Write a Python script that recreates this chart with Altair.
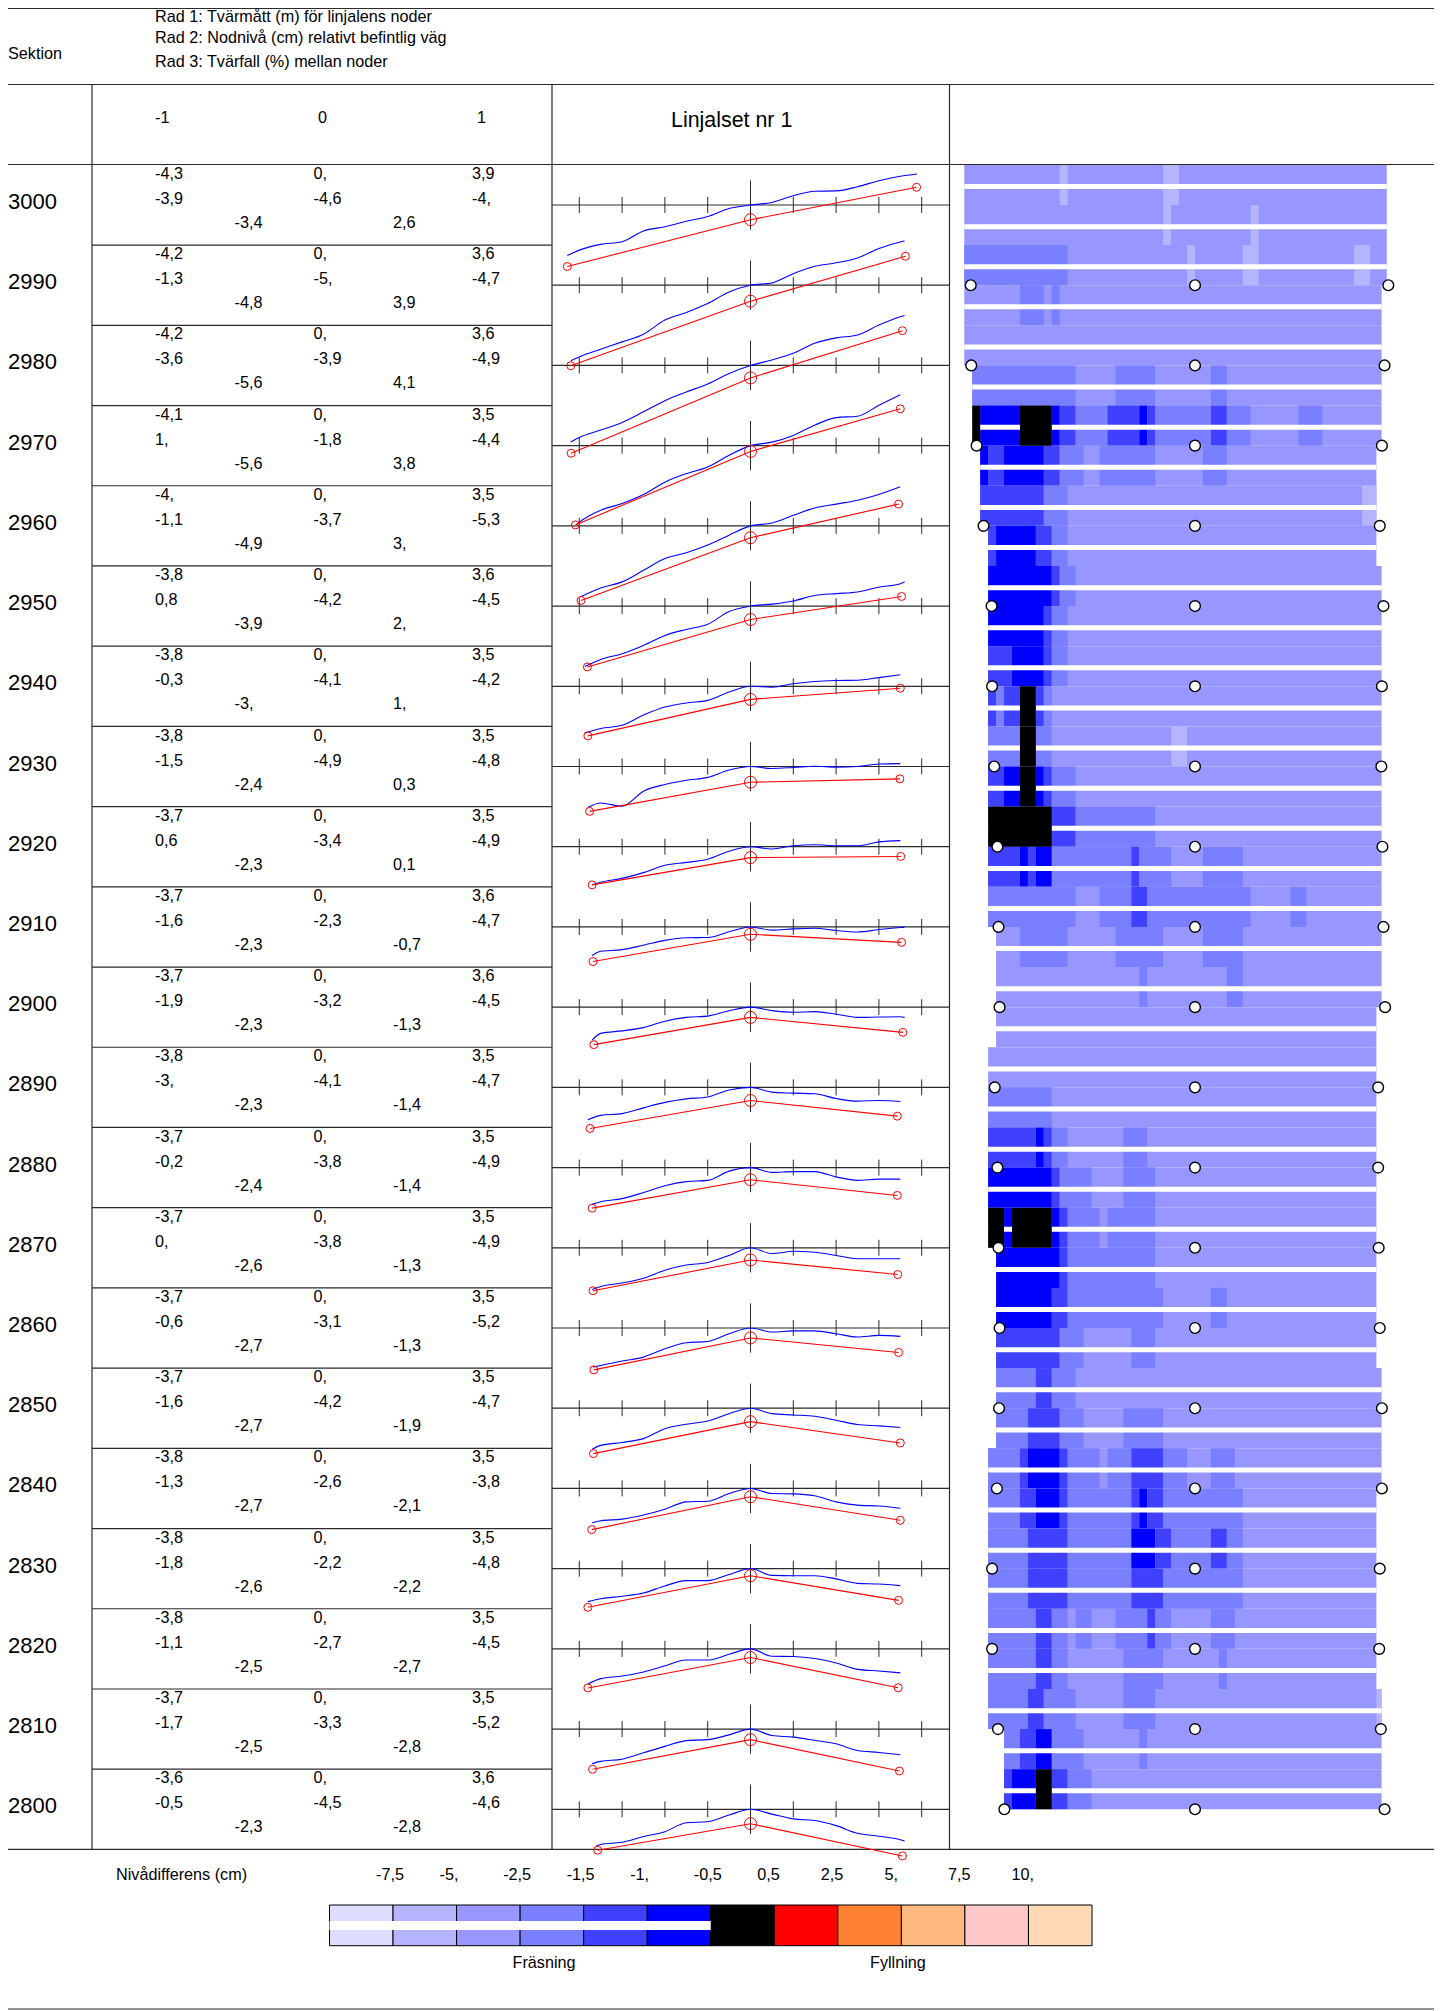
import altair as alt
import pandas as pd

FONT = "Liberation Sans"
LINE = "#2b2b2b"

# ---- table values -------------------------------------------------------
SECTIONS = list(range(3000, 2790, -10))
WIDTHS = [("-4,3","0,","3,9"),("-4,2","0,","3,6"),("-4,2","0,","3,6"),("-4,1","0,","3,5"),("-4,","0,","3,5"),
          ("-3,8","0,","3,6"),("-3,8","0,","3,5"),("-3,8","0,","3,5"),("-3,7","0,","3,5"),("-3,7","0,","3,6"),
          ("-3,7","0,","3,6"),("-3,8","0,","3,5"),("-3,7","0,","3,5"),("-3,7","0,","3,5"),("-3,7","0,","3,5"),
          ("-3,7","0,","3,5"),("-3,8","0,","3,5"),("-3,8","0,","3,5"),("-3,8","0,","3,5"),("-3,7","0,","3,5"),
          ("-3,6","0,","3,6")]
LEVELS = [("-3,9","-4,6","-4,"),("-1,3","-5,","-4,7"),("-3,6","-3,9","-4,9"),("1,","-1,8","-4,4"),("-1,1","-3,7","-5,3"),
          ("0,8","-4,2","-4,5"),("-0,3","-4,1","-4,2"),("-1,5","-4,9","-4,8"),("0,6","-3,4","-4,9"),("-1,6","-2,3","-4,7"),
          ("-1,9","-3,2","-4,5"),("-3,","-4,1","-4,7"),("-0,2","-3,8","-4,9"),("0,","-3,8","-4,9"),("-0,6","-3,1","-5,2"),
          ("-1,6","-4,2","-4,7"),("-1,3","-2,6","-3,8"),("-1,8","-2,2","-4,8"),("-1,1","-2,7","-4,5"),("-1,7","-3,3","-5,2"),
          ("-0,5","-4,5","-4,6")]
SLOPES = [("-3,4","2,6"),("-4,8","3,9"),("-5,6","4,1"),("-5,6","3,8"),("-4,9","3,"),("-3,9","2,"),("-3,","1,"),
          ("-2,4","0,3"),("-2,3","0,1"),("-2,3","-0,7"),("-2,3","-1,3"),("-2,3","-1,4"),("-2,4","-1,4"),("-2,6","-1,3"),
          ("-2,7","-1,3"),("-2,7","-1,9"),("-2,7","-2,1"),("-2,6","-2,2"),("-2,5","-2,7"),("-2,5","-2,8"),("-2,3","-2,8")]
# node positions (m) as drawn, finer than the rounded table figures
NODE_LEFT = [-4.28,-4.20,-4.19,-4.09,-3.96,-3.81,-3.80,-3.76,-3.70,-3.68,-3.66,-3.75,-3.70,-3.68,-3.66,-3.67,-3.71,-3.80,-3.80,-3.69,-3.57]
NODE_RIGHT = [3.88,3.62,3.55,3.50,3.46,3.53,3.50,3.49,3.51,3.53,3.56,3.43,3.43,3.44,3.46,3.50,3.50,3.46,3.45,3.48,3.55]

# ---- existing road profile (cm), on a 0,5 m grid plus both ends ---------
GRID = [-4,-3.5,-3,-2.5,-2,-1.5,-1,-0.5,0,0.5,1,1.5,2,2.5,3,3.5]
BLUE_START = [(-4.28,-15.8),(-4.2,-23.6),(-4.2,-23.9),(-4.07,-24.6),(-3.98,-22.2),(-3.87,-18.9),(-3.87,-14.6),
              (-3.8,-12.8),(-3.7,-11.9),(-3.7,-8.9),(-3.7,-10.3),(-3.8,-10.1),(-3.7,-11.5),(-3.7,-13.),
              (-3.68,-12.2),(-3.7,-12.8),(-3.7,-10.7),(-3.8,-10.3),(-3.8,-11.),(-3.7,-10.8),(-3.6,-11.4)]
BLUE_END = [(3.89,9.7),(3.6,13.8),(3.6,15.6),(3.5,15.9),(3.5,12.2),(3.6,7.5),(3.5,3.6),(3.5,.9),(3.5,1.9),(3.6,-.1),
            (3.6,-3.2),(3.5,-4.4),(3.5,-3.6),(3.5,-3.4),(3.5,-2.6),(3.5,-6.),(3.5,-6.2),(3.5,-5.3),(3.5,-7.5),(3.5,-8.),
            (3.6,-9.9)]
BLUE = [
 [-14.1,-12.3,-11.5,-8.1,-6.8,-5.1,-3.6,-1.1,0,.8,2.9,4.3,4.4,5.7,7.6,9.],
 [-22.4,-20.,-17.7,-15.3,-10.9,-8.5,-5.7,-2.1,0,.7,3.6,5.9,7.,8.5,11.5,13.5],
 [-22.5,-20.2,-17.8,-14.5,-11.,-8.3,-5.8,-2.5,0,1.7,3.8,6.9,8.6,9.5,12.6,15.2],
 [-23.9,-20.2,-18.1,-15.3,-11.4,-8.75,-6.7,-3.,0,1.1,3.2,6.4,8.75,9.2,12.6,None],
 [None,-19.4,-17.5,-13.9,-10.2,-8.4,-6.,-2.9,0,.9,3.3,5.6,6.8,8.,9.8,None],
 [None,-16.7,-14.9,-12.3,-9.2,-7.3,-5.7,-1.7,0,.6,1.6,3.3,3.9,4.4,5.9,7.],
 [None,-13.2,-12.2,-9.,-6.5,-5.2,-4.4,-1.8,0,-.3,.8,1.5,1.8,1.9,2.7,None],
 [None,-11.4,-12.4,-7.7,-5.6,-4.3,-3.4,-1.1,0,-.6,-.3,.1,-.2,0,.8,None],
 [None,-11.1,-9.9,-8.1,-5.8,-4.9,-3.9,-1.4,0,-.7,.3,.6,.3,.3,1.5,None],
 [None,-7.6,-7.1,-5.7,-4.2,-3.4,-3.3,-1.5,0,-1.,-.6,-.4,-1.1,-1.6,-.8,-.2],
 [None,-8.2,-7.4,-6.4,-4.4,-3.2,-2.8,-1.1,0,-1.1,-1.6,-1.4,-2.2,-3.2,-3.1,-3.],
 [None,-8.75,-8.2,-6.4,-4.7,-3.6,-3.,-.8,0,-1.5,-1.8,-2.,-3.5,-4.3,-4.1,None],
 [None,-10.7,-9.7,-7.8,-5.7,-4.4,-4.,-1.1,0,-1.5,-1.25,-1.25,-2.9,-4.,-3.6,None],
 [None,-12.1,-11.,-9.5,-7.,-5.4,-4.6,-2.4,0,-1.8,-1.1,-1.4,-2.4,-3.4,-3.4,None],
 [None,-11.7,-10.3,-9.1,-6.5,-4.6,-4.2,-1.8,0,-1.25,-.9,-.9,-1.8,-2.8,-2.3,None],
 [None,-11.6,-10.7,-9.5,-6.4,-5.,-4.,-1.7,0,-1.7,-2.1,-2.5,-3.75,-5.1,-5.5,None],
 [None,-10.1,-9.6,-8.3,-6.5,-4.2,-4.,-1.6,0,-1.6,-1.7,-2.3,-4.2,-5.2,-5.5,None],
 [None,-9.4,-8.6,-7.6,-5.4,-3.75,-3.75,-1.8,0,-2.1,-2.2,-2.2,-3.2,-4.6,-4.8,None],
 [None,-9.3,-8.5,-7.2,-5.3,-3.5,-3.5,-1.7,0,-2.3,-2.4,-3.,-4.4,-6.4,-6.9,None],
 [None,-10.1,-9.4,-7.4,-5.4,-3.6,-3.3,-1.8,0,-2.,-2.5,-3.5,-4.6,-6.7,-7.3,None],
 [None,-11.,-10.3,-8.5,-7.,-4.2,-3.9,-1.8,0,-1.5,-3.,-3.5,-5.1,-7.5,-8.4,-9.5],
]

# ---- level-difference map: 41 rows of 5 m, cells counted from the left ---
HEAT_COLORS = ["#ddddff","#b5b5ff","#9797ff","#7a7fff","#4040ff","#0000ff","#000000",
               "#ff0000","#ff8030","#ffb880","#ffc8c8","#ffd9b3"]
HEAT_BASE = 2
HEAT_LEFT = [0,0,0,0,0,1,1,2,2,3,3,3,3,3,3,3,3,3,3,4,4,4,3,3,3,3,3,4,4,4,4,4,3,3,3,3,3,3,3,5,5]
HEAT_RIGHT = [53.1,53.1,53.1,52.45,52.45,52.45,52.45,51.8,51.8,51.8,52.45,52.45,52.45,52.45,52.45,52.45,52.45,52.45,
              52.45,52.45,52.45,51.8,51.8,51.8,51.8,51.8,51.8,51.8,51.8,51.8,52.45,52.45,52.45,51.8,51.8,51.8,51.8,
              51.8,52.45,52.45,52.45]
HEAT_PATCHES = [
 [(12,13,1),(25,27,1)],
 [(25,26,1),(36,37,1)],
 [(0,13,3),(28,29,1),(35,37,1),(49,51,1)],
 [(7,10,3),(11,12,3)],
 [],
 [(1,14,3),(19,24,3),(31,33,3)],
 [(1,2,6),(2,7,5),(7,11,6),(11,12,5),(12,14,4),(14,18,3),(18,22,4),(22,23,5),(23,24,4),(24,31,3),(31,33,4),(33,36,3),(42,45,3)],
 [(2,3,5),(3,5,4),(5,10,5),(10,12,4),(12,15,3),(17,24,3),(30,33,3)],
 [(2,10,4),(10,13,3),(50,51.8,1)],
 [(3,4,4),(4,9,5),(9,11,4),(11,13,3)],
 [(3,11,5),(11,12,4),(12,14,3)],
 [(3,10,5),(10,11,4),(11,13,3)],
 [(3,6,4),(6,10,5),(10,11,4),(11,13,3)],
 [(3,4,4),(4,5,3),(5,7,4),(7,9,6),(9,10,4),(10,11,3)],
 [(3,7,3),(7,9,6),(9,11,3),(26,28,1)],
 [(3,5,4),(5,7,5),(7,9,6),(9,10,5),(10,11,4),(11,14,3)],
 [(3,11,6),(11,14,4),(14,24,3)],
 [(3,7,4),(7,8,5),(8,9,4),(9,11,5),(11,21,3),(21,22,4),(22,26,3),(30,35,3)],
 [(3,14,3),(17,21,3),(21,23,4),(23,36,3),(41,43,3)],
 [(7,13,3),(19,25,3),(30,35,3)],
 [(22,23,3),(33,35,3)],
 [],
 [],
 [(3,11,3)],
 [(3,9,4),(9,10,5),(10,11,4),(11,13,3),(20,23,3)],
 [(3,11,5),(11,12,4),(12,16,3),(20,24,3)],
 [(3,5,6),(5,6,5),(6,11,6),(11,12,5),(12,13,4),(13,17,3),(18,24,3)],
 [(4,12,5),(12,13,4),(13,24,3)],
 [(4,11,5),(11,13,4),(13,25,3),(31,33,3)],
 [(4,12,4),(12,15,3),(21,24,3)],
 [(4,9,3),(9,11,4),(11,14,3)],
 [(4,8,3),(8,12,4),(12,15,3),(20,25,3)],
 [(3,7,3),(7,8,4),(8,12,5),(12,13,4),(13,17,3),(18,21,3),(21,25,4),(25,28,3),(31,34,3)],
 [(3,7,3),(7,9,4),(9,12,5),(12,13,4),(13,21,3),(21,22,4),(22,23,5),(23,25,4),(25,35,3)],
 [(3,8,3),(8,13,4),(13,21,3),(21,24,5),(24,26,4),(26,31,3),(31,33,4),(33,35,3)],
 [(3,8,3),(8,13,4),(13,21,3),(21,25,4),(25,35,3)],
 [(3,9,3),(9,11,4),(11,13,3),(14,16,3),(19,23,3),(23,24,4),(24,26,3),(31,34,3)],
 [(3,9,3),(9,11,4),(11,13,3),(20,25,3),(32,33,3)],
 [(3,8,3),(8,10,4),(10,14,3),(20,24,3),(51.8,52.45,1)],
 [(5,7,3),(7,9,4),(9,11,5),(11,15,3),(22,23,3)],
 [(5,6,4),(6,9,5),(9,11,6),(11,13,4),(13,16,3)],
]
CELL_M = 0.149
CELL_CENTRE = 29

# ---- legend -------------------------------------------------------------
LEGEND_TICKS = ["-7,5","-5,","-2,5","-1,5","-1,","-0,5","0,5","2,5","5,","7,5","10,"]

# ---- page furniture, in reference pixels --------------------------------
FRAME = [(8,1434,8.5,8.5),(8,1434,84.5,84.5),(8,1434,164.5,164.5),(8,1434,1849.4,1849.4),(8,1434,2009,2009),
         (92,92,84.5,1849.4),(552,552,84.5,1849.4),(949.5,949.5,84.5,1849.4)]
LABELS = [("Sektion",8,53.7,16.2),("Rad 1: Tvärmått (m) för linjalens noder",155,17,16.2),
          ("Rad 2: Nodnivå (cm) relativt befintlig väg",155,37.7,16.2),("Rad 3: Tvärfall (%) mellan noder",155,61.7,16.2),
          ("-1",155,118,16.2),("0",318,118,16.2),("1",477,118,16.2),("Linjalset nr 1",671,121,21.4),
          ("Nivådifferens (cm)",116,1875,16.2),("Fräsning",512.5,1963,16.2),("Fyllning",870,1963,16.2)]
COL_X = [155, 313.5, 472]
SLOPE_X = [234.5, 393]

def num(s):
    return float(s.replace(",", ".").rstrip(".") or 0)

# ---- scales -------------------------------------------------------------
W, H = 1426, 2003
PAGE_X = alt.Scale(domain=[8, 8 + W], range=[0, W], nice=False, zero=False, clamp=True)
PAGE_Y = alt.Scale(domain=[8, 8 + H], range=[0, H], nice=False, zero=False, clamp=True)
STATION = alt.Scale(domain=[3000, 2800], range=[197, 1801.3], nice=False, zero=False)
PROFILE_X = alt.Scale(domain=[-4, 4], range=[571.3, 913.7], nice=False, zero=False)
MAP_X = alt.Scale(domain=[-4, 4], range=[973.4, 1400.6], nice=False, zero=False)
LEG_X = alt.Scale(domain=[0, 12], range=[321.5, 1084], nice=False, zero=False)
COLOR = alt.Scale(domain=list(range(12)), range=HEAT_COLORS)
CM = 3.2 / 8.02   # section metres per cm on the profile panel

def X(f, s): return alt.X(f, type="quantitative", scale=s, axis=None, title=None)
def Y(f, s): return alt.Y(f, type="quantitative", scale=s, axis=None, title=None)

layers = []

# heat map
cells, bands = [], []
for i, patches in enumerate(HEAT_PATCHES):
    top, bot = 3005 - 5 * i, 3000 - 5 * i
    L, R = HEAT_LEFT[i], HEAT_RIGHT[i]
    for a, b, c in [(L, R, HEAT_BASE)] + patches:
        cells.append(dict(a=(a - CELL_CENTRE) * CELL_M, b=(b - CELL_CENTRE) * CELL_M, top=top, bot=bot, c=c))
    bands.append(dict(a=(L - CELL_CENTRE) * CELL_M, b=(R - CELL_CENTRE) * CELL_M, s=(top + bot) / 2 - 0.2))
cells = pd.DataFrame(cells)
bands = pd.DataFrame(bands)

def heat(df):
    return alt.Chart(df).mark_rect(strokeWidth=0).encode(
        x=X("a", MAP_X), x2="b", y=Y("top", STATION), y2="bot",
        color=alt.Color("c:O", scale=COLOR, legend=None))

layers.append(heat(cells[cells.c != 6]))
layers.append(alt.Chart(bands).mark_rule(color="white", strokeWidth=5).encode(
    x=X("a", MAP_X), x2="b", y=Y("s", STATION)))
layers.append(heat(cells[cells.c == 6]))

# frame
frame = pd.DataFrame(FRAME, columns=["x", "x2", "y", "y2"])
layers.append(alt.Chart(frame).mark_rule(color=LINE, strokeWidth=1.2).encode(
    x=X("x", PAGE_X), x2="x2", y=Y("y", PAGE_Y), y2="y2"))

# row rules in the table, one per section boundary
rules = pd.DataFrame({"s": [s + 5 for s in SECTIONS[1:]], "x": 92, "x2": 552})
layers.append(alt.Chart(rules).mark_rule(color=LINE, strokeWidth=1.2).encode(
    x=X("x", PAGE_X), x2="x2", y=Y("s", STATION)))

# profile axes and ticks
axes = pd.DataFrame({"s": SECTIONS, "x": 552, "x2": 949.5})
layers.append(alt.Chart(axes).mark_rule(color=LINE, strokeWidth=1.2).encode(
    x=X("x", PAGE_X), x2="x2", y=Y("s", STATION)))
ticks = []
for s in SECTIONS:
    for m in range(-4, 5):
        half = 7.7 if m == 0 else 2.5
        ticks.append(dict(m=m, a=s + half * CM, b=s - half * CM))
layers.append(alt.Chart(pd.DataFrame(ticks)).mark_rule(color=LINE, strokeWidth=1).encode(
    x=X("m", PROFILE_X), y=Y("a", STATION), y2="b"))

# blue profiles
blue = []
for s, st, en, vals in zip(SECTIONS, BLUE_START, BLUE_END, BLUE):
    pts = [st] + [(g, v) for g, v in zip(GRID, vals) if v is not None and st[0] < g < en[0]] + [en]
    for m, cm in pts:
        blue.append(dict(sec=s, m=m, y=s + cm * CM))
layers.append(alt.Chart(pd.DataFrame(blue)).mark_line(color="#0000ff", strokeWidth=1.1, interpolate="monotone").encode(
    x=X("m", PROFILE_X), y=Y("y", STATION), detail="sec:N"))

# red ruler from the table values: tvärfall (%) x tvärmått (m) gives cm
red = []
for s, w, l, sl, xl, xr in zip(SECTIONS, WIDTHS, LEVELS, SLOPES, NODE_LEFT, NODE_RIGHT):
    c = num(l[1])
    red.append(dict(sec=s, m=xl, y=s + (c + num(sl[0]) * abs(num(w[0]))) * CM, node="side"))
    red.append(dict(sec=s, m=0.0, y=s + c * CM, node="mid"))
    red.append(dict(sec=s, m=xr, y=s + (c + num(sl[1]) * num(w[2])) * CM, node="side"))
red = pd.DataFrame(red)
layers.append(alt.Chart(red).mark_line(color="#ff0000", strokeWidth=1.1).encode(
    x=X("m", PROFILE_X), y=Y("y", STATION), detail="sec:N"))
for node, size in (("side", 64), ("mid", 144)):
    layers.append(alt.Chart(red[red.node == node]).mark_point(
        shape="circle", filled=False, color="#ff0000", strokeWidth=1, size=size, opacity=1).encode(
        x=X("m", PROFILE_X), y=Y("y", STATION)))

# white node circles on the map (section 3000 has none)
dots = []
for s, xl, xr in zip(SECTIONS[1:], NODE_LEFT[1:], NODE_RIGHT[1:]):
    for m in (xl, 0.0, xr):
        dots.append(dict(s=s, m=m))
layers.append(alt.Chart(pd.DataFrame(dots)).mark_point(
    shape="circle", filled=True, fill="white", stroke="black", strokeWidth=1.4, size=115, opacity=1).encode(
    x=X("m", MAP_X), y=Y("s", STATION)))

# table texts
def txt(df, size, dy=0, align="left"):
    return alt.Chart(df).mark_text(font=FONT, fontSize=size, align=align, baseline="middle", dy=dy, color="black").encode(
        x=X("x", PAGE_X), y=Y("s", STATION), text="t:N")

layers.append(txt(pd.DataFrame({"s": SECTIONS, "x": 8, "t": [str(s) for s in SECTIONS]}), 22, dy=-3))
r1, r2, r3 = [], [], []
for s, w, l, sl in zip(SECTIONS, WIDTHS, LEVELS, SLOPES):
    for x, a, b in zip(COL_X, w, l):
        r1.append(dict(s=s, x=x, t=a))
        r2.append(dict(s=s, x=x, t=b))
    for x, a in zip(SLOPE_X, sl):
        r3.append(dict(s=s, x=x, t=a))
layers.append(txt(pd.DataFrame(r1), 16.2, dy=-31))
layers.append(txt(pd.DataFrame(r2), 16.2, dy=-6))
layers.append(txt(pd.DataFrame(r3), 16.2, dy=18))

# free labels
lab = pd.DataFrame(LABELS, columns=["t", "x", "y", "size"])
for size in sorted(lab["size"].unique()):
    layers.append(alt.Chart(lab[lab["size"] == size]).mark_text(
        font=FONT, fontSize=float(size), align="left", baseline="middle", color="black").encode(
        x=X("x", PAGE_X), y=Y("y", PAGE_Y), text="t:N"))

# legend
leg = pd.DataFrame({"a": list(range(12)), "b": list(range(1, 13)), "c": list(range(12)),
                    "y": [1905] * 12, "y2": [1945.7] * 12})
layers.append(alt.Chart(leg).mark_rect(stroke="black", strokeWidth=1).encode(
    x=X("a", LEG_X), x2="b", y=Y("y", PAGE_Y), y2="y2",
    color=alt.Color("c:O", scale=COLOR, legend=None)))
layers.append(alt.Chart(pd.DataFrame({"a": [0], "b": [6], "y": [1925.5]})).mark_rule(color="white", strokeWidth=9).encode(
    x=X("a", LEG_X), x2="b", y=Y("y", PAGE_Y)))
legt = pd.DataFrame({"t": LEGEND_TICKS, "a": list(range(1, 12)), "y": [1875] * 11})
layers.append(alt.Chart(legt).mark_text(font=FONT, fontSize=16.2, align="left", baseline="middle", dx=-17, color="black").encode(
    x=X("a", LEG_X), y=Y("y", PAGE_Y), text="t:N"))

chart = alt.layer(*layers).resolve_scale(x="independent", y="independent", color="shared").properties(
    width=W, height=H, padding=0, autosize="none", background="white"
).configure_view(stroke=None)

chart.save("out.html", embed_options={"renderer": "svg", "actions": False})
